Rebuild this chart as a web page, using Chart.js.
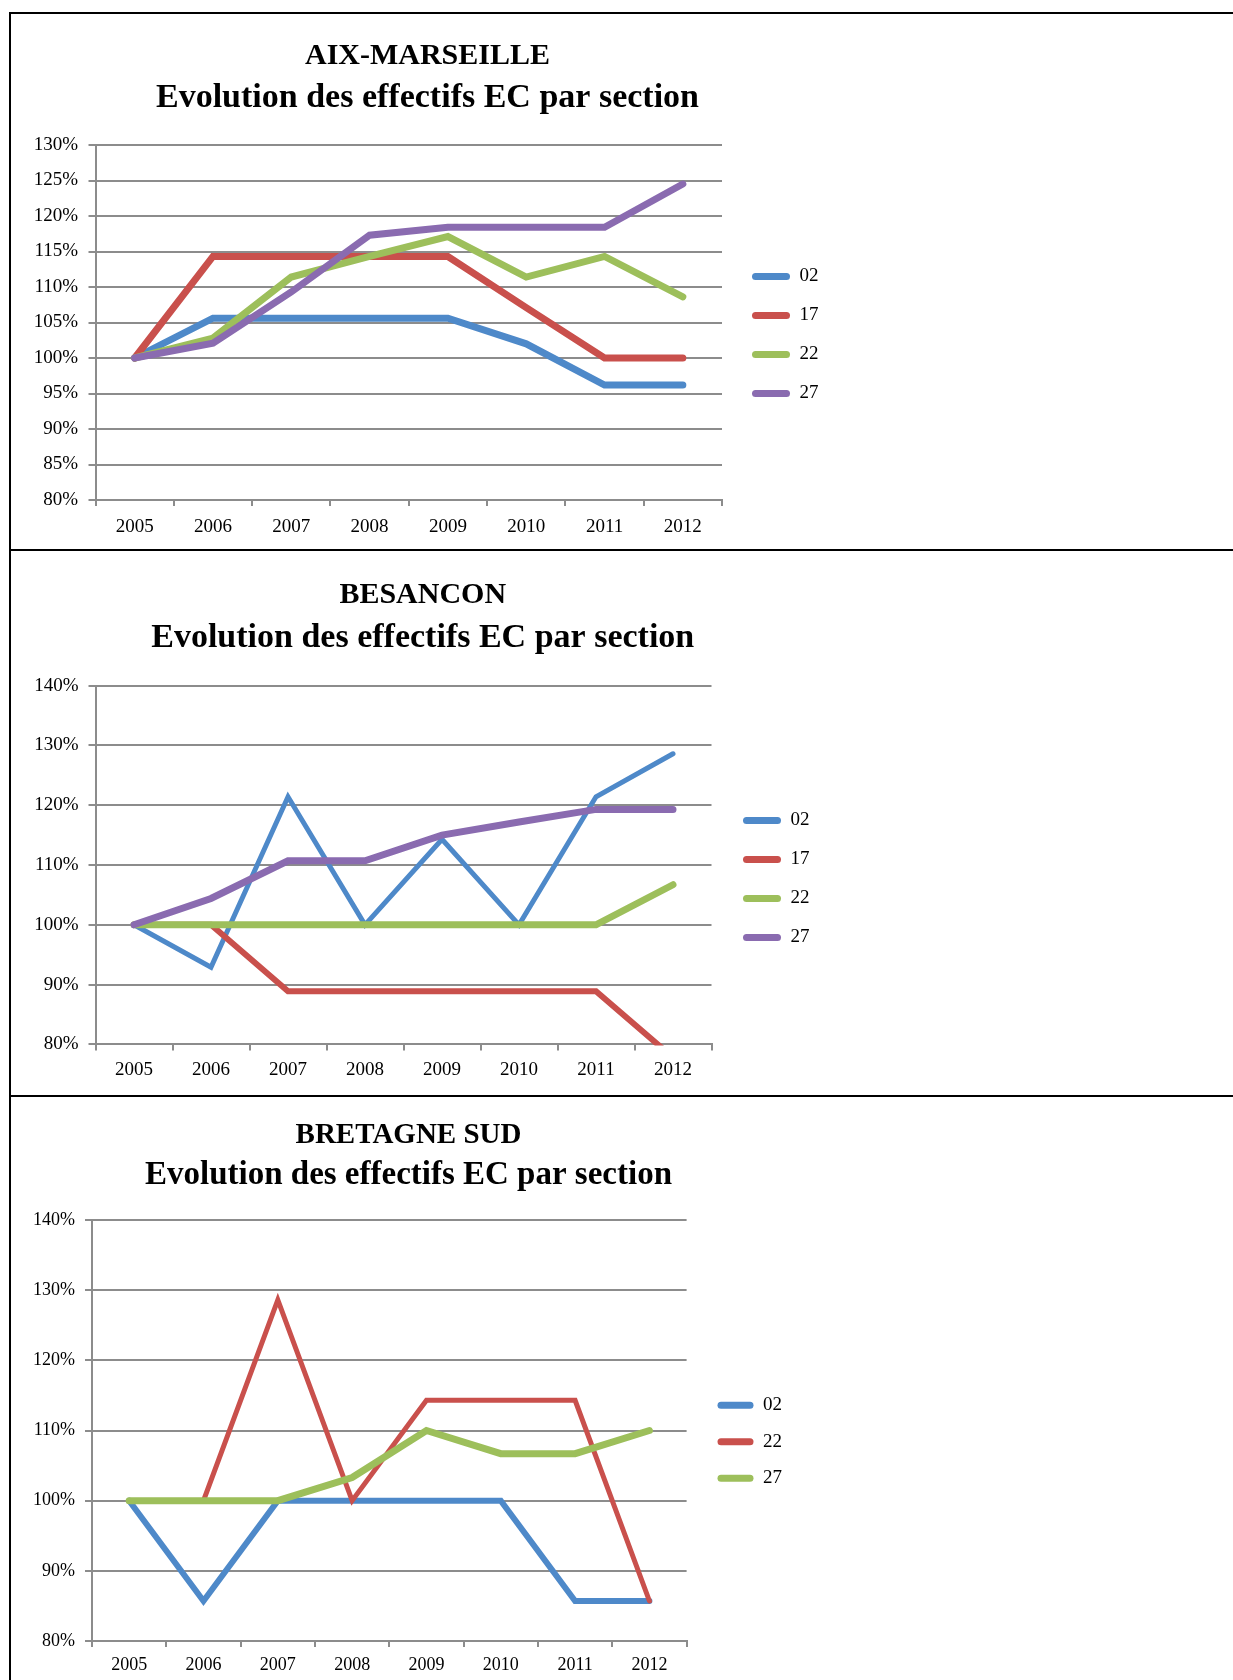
<!DOCTYPE html>
<html>
<head>
<meta charset="utf-8">
<script src="https://cdn.jsdelivr.net/npm/chart.js@4"></script>
<style>
  body { margin: 0; background: #fff; }
  #page { position: relative; width: 1233px; height: 1680px; overflow: hidden; background: #fff; }
  .rule { position: absolute; background: #000; }
  canvas { position: absolute; left: 0; }
</style>
</head>
<body>
<div id="page">
  <div class="rule" style="left:9px;top:12px;width:2px;height:1668px"></div>
  <div class="rule" style="left:9px;top:12px;width:1224px;height:2px"></div>
  <div class="rule" style="left:9px;top:549px;width:1224px;height:2px"></div>
  <div class="rule" style="left:9px;top:1095px;width:1224px;height:2px"></div>
  <canvas id="aix" width="1233" height="549" style="top:0"></canvas>
  <canvas id="besancon" width="1233" height="547" style="top:549px"></canvas>
  <canvas id="bretagne" width="1233" height="584" style="top:1096px"></canvas>
</div>
<script>
const years = ["2005", "2006", "2007", "2008", "2009", "2010", "2011", "2012"];
const subtitleText = "Evolution des effectifs EC par section";

// AIX-MARSEILLE (base 100 en 2005)
const aixSections = ["02", "17", "22", "27"];
const aix02 = [100, 105.6, 105.6, 105.6, 105.6, 102.0, 96.2, 96.2];
const aix17 = [100, 114.3, 114.3, 114.3, 114.3, 107.1, 100, 100];
const aix22 = [100, 102.8, 111.4, 114.3, 117.1, 111.4, 114.3, 108.6];
const aix27 = [100, 102.1, 109.3, 117.3, 118.4, 118.4, 118.4, 124.5];

// BESANCON
const besSections = ["02", "17", "22", "27"];
const bes02 = [100, 92.9, 121.4, 100, 114.3, 100, 121.4, 128.6];
const bes17 = [100, 100, 88.9, 88.9, 88.9, 88.9, 88.9, 77.8];
const bes22 = [100, 100, 100, 100, 100, 100, 100, 106.7];
const bes27 = [100, 104.4, 110.7, 110.7, 115.0, 117.2, 119.3, 119.3];

// BRETAGNE SUD
const breSections = ["02", "22", "27"];
const bre02 = [100, 85.7, 100, 100, 100, 100, 85.7, 85.7];
const bre22 = [100, 100, 128.6, 100, 114.3, 114.3, 114.3, 85.7];
const bre27 = [100, 100, 100, 103.3, 110.0, 106.7, 106.7, 110.0];

const BLUE = "#4e89c9";
const RED = "#c9504c";
const GREEN = "#9dbf5b";
const PURPLE = "#8a6bb0";
const GRID = "#8c8c8c";
const SERIF = "'Liberation Serif', 'Times New Roman', serif";

function drawPanel(id, cfg) {
  const datasets = cfg.series.map((values, i) => ({
    label: cfg.sections[i],
    data: values,
    borderColor: cfg.colors[i],
    backgroundColor: cfg.colors[i],
    borderWidth: cfg.widths[i],
    borderCapStyle: "round",
    borderJoinStyle: "miter",
    pointRadius: 0,
    pointHoverRadius: 0,
    tension: 0,
    clip: 1,
    // excel paints the later series on top
    order: cfg.series.length - i,
  }));

  new Chart(document.getElementById(id), {
    type: "line",
    data: { labels: years, datasets: datasets },
    options: {
      responsive: false,
      animation: false,
      devicePixelRatio: 1,
      layout: { padding: { left: cfg.padL, right: cfg.padR, top: 0, bottom: 0 } },
      plugins: {
        title: {
          display: true,
          text: cfg.name,
          color: "#000",
          font: { family: SERIF, size: cfg.titleSize, weight: "bold", lineHeight: 1.2 },
          padding: { top: cfg.titleTop, bottom: 0 },
        },
        subtitle: {
          display: true,
          text: subtitleText,
          color: "#000",
          font: { family: SERIF, size: cfg.subSize, weight: "bold", lineHeight: 1.2 },
          padding: { top: cfg.subTop, bottom: cfg.subBottom },
        },
        legend: {
          position: "right",
          fullSize: false,
          align: "center",
          title: { display: true, text: "", font: { size: 10, lineHeight: 1.2 }, padding: cfg.legendShift },
          labels: {
            color: "#000",
            font: { family: SERIF, size: 19 },
            boxWidth: cfg.boxW,
            boxHeight: 7,
            padding: cfg.legendPad,
            useBorderRadius: true,
            borderRadius: 3.5,
            sort: (a, b) => a.datasetIndex - b.datasetIndex,
            generateLabels: (chart) =>
              Chart.defaults.plugins.legend.labels
                .generateLabels(chart)
                .map((item) => Object.assign(item, { lineWidth: 0 })),
          },
        },
        tooltip: { enabled: false },
      },
      scales: {
        x: {
          type: "category",
          offset: true,
          grid: {
            display: true,
            drawOnChartArea: false,
            drawTicks: true,
            tickLength: 6,
            offset: true,
            color: GRID,
            lineWidth: 2,
          },
          border: { display: true, color: GRID, width: 2 },
          ticks: {
            color: "#000",
            font: { family: SERIF, size: cfg.tickSize },
            padding: cfg.xPad,
            maxRotation: 0,
            autoSkip: false,
          },
          afterFit: (s) => { s.height = cfg.xAxisH; },
        },
        y: {
          type: "linear",
          min: 80,
          max: cfg.yMax,
          grid: { color: GRID, lineWidth: 2, tickLength: 7 },
          border: { color: GRID, width: 2 },
          ticks: {
            stepSize: cfg.yStep,
            color: "#000",
            font: { family: SERIF, size: cfg.tickSize },
            padding: cfg.yPad,
            callback: (v) => v + "%",
          },
          afterFit: (s) => { s.width = cfg.yAxisW; },
        },
        // empty spacer between plot and legend
        gap: {
          type: "linear",
          position: "right",
          display: true,
          grid: { display: false },
          border: { display: false },
          ticks: { display: false },
          afterFit: (s) => { s.width = cfg.gap; },
        },
      },
    },
  });
}

drawPanel("aix", {
  name: "AIX-MARSEILLE",
  sections: aixSections,
  series: [aix02, aix17, aix22, aix27],
  colors: [BLUE, RED, GREEN, PURPLE],
  widths: [7, 7, 7, 7],
  titleSize: 30, subSize: 34, titleTop: 38, subTop: 3.6, subBottom: 26.6,
  xAxisH: 49, xPad: 10, tickSize: 19, yPad: 10.5, yAxisW: 69, gap: 10,
  padL: 26.5, padR: 404.5, legendPad: 20, boxW: 38, legendShift: 6.5,
  yMax: 130, yStep: 5,
});

drawPanel("besancon", {
  name: "BESANCON",
  sections: besSections,
  series: [bes02, bes17, bes22, bes27],
  colors: [BLUE, RED, GREEN, PURPLE],
  widths: [5, 6, 7, 7],
  titleSize: 30, subSize: 34, titleTop: 28, subTop: 4.6, subBottom: 27.2,
  xAxisH: 51.6, xPad: 8.5, tickSize: 19, yPad: 10, yAxisW: 69.5, gap: 11.5,
  padL: 26, padR: 413.5, legendPad: 20, boxW: 38, legendShift: 8,
  yMax: 140, yStep: 10,
});

drawPanel("bretagne", {
  name: "BRETAGNE SUD",
  sections: breSections,
  series: [bre02, bre22, bre27],
  colors: [BLUE, RED, GREEN],
  widths: [6, 5, 7],
  titleSize: 29, subSize: 33, titleTop: 22.1, subTop: 2.3, subBottom: 25.2,
  xAxisH: 39, xPad: 7, tickSize: 18, yPad: 10, yAxisW: 67, gap: 13.4,
  padL: 25, padR: 441, legendPad: 17.5, boxW: 36, legendShift: 5.3,
  yMax: 140, yStep: 10,
});
</script>
</body>
</html>
